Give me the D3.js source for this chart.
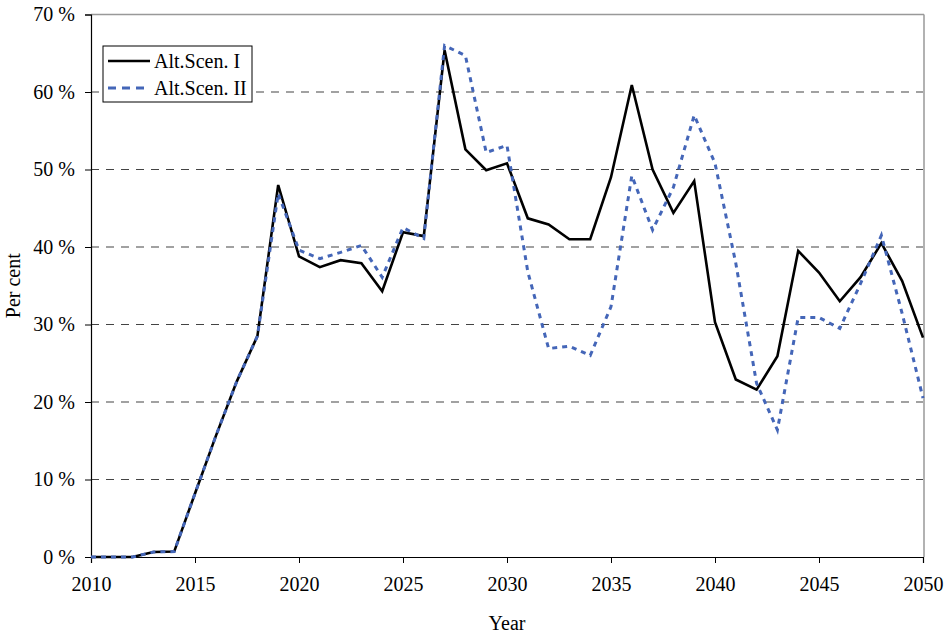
<!DOCTYPE html>
<html>
<head>
<meta charset="utf-8">
<script src="https://cdn.jsdelivr.net/npm/d3@7"></script>
<style>
  html, body { margin: 0; padding: 0; background: #fff; }
  svg { display: block; }
  text { font-family: "Liberation Serif", "Times New Roman", serif; fill: #000; }
</style>
</head>
<body>
<svg id="chart" width="945" height="633"></svg>
<script>
const years = d3.range(2010, 2051);
const scenI = [0, 0, 0, 0.65, 0.7, 8.2, 15.6, 22.6, 28.5, 48.0,
  38.8, 37.4, 38.3, 37.9, 34.3, 41.9, 41.4, 65.4, 52.6, 49.9,
  50.8, 43.7, 42.9, 41.0, 41.0, 49.0, 60.9, 50.0, 44.4, 48.5,
  30.3, 22.9, 21.6, 25.9, 39.5, 36.7, 33.0, 36.1, 40.5, 35.6, 28.3];
const scenII = [0, 0, 0, 0.65, 0.7, 8.2, 15.6, 22.6, 28.5, 46.9,
  39.6, 38.5, 39.3, 40.2, 36.1, 42.5, 41.1, 66.0, 64.7, 52.2,
  53.1, 36.8, 26.9, 27.2, 26.0, 32.3, 49.2, 42.2, 47.7, 57.0,
  50.8, 37.9, 22.4, 16.4, 30.9, 30.9, 29.5, 35.3, 41.5, 31.4, 20.5];
const xTicks = [2010, 2015, 2020, 2025, 2030, 2035, 2040, 2045, 2050];
const yTicks = [0, 10, 20, 30, 40, 50, 60, 70];
const seriesNames = ["Alt.Scen. I", "Alt.Scen. II"];

const svg = d3.select("#chart");
const L = 91, R = 923, T = 14.5, B = 557;
const x = d3.scaleLinear().domain([2010, 2050]).range([L, R]);
const y = d3.scaleLinear().domain([0, 70]).range([B, T]);

// gridlines
svg.append("g").selectAll("line").data(yTicks.filter(v => v > 0 && v < 70)).join("line")
  .attr("x1", L).attr("x2", R).attr("y1", d => y(d)).attr("y2", d => y(d))
  .attr("stroke", "#444").attr("stroke-width", 1.2).attr("stroke-dasharray", "8,7");

// top & right border
svg.append("line").attr("x1", L).attr("x2", R + 1).attr("y1", y(70)).attr("y2", y(70))
  .attr("stroke", "#999").attr("stroke-width", 1.5);
svg.append("line").attr("x1", R + 1).attr("x2", R + 1).attr("y1", y(70)).attr("y2", B)
  .attr("stroke", "#999").attr("stroke-width", 1.5);

// axes
const xAxis = svg.append("g").attr("transform", `translate(0,${B})`)
  .call(d3.axisBottom(x).tickValues(xTicks).tickFormat(d3.format("d")).tickSizeOuter(0).tickSize(6).tickPadding(14));
const yAxis = svg.append("g").attr("transform", `translate(${L},0)`)
  .call(d3.axisLeft(y).tickValues(yTicks).tickFormat(d => d + " %").tickSizeOuter(0).tickSize(6).tickPadding(10));
[xAxis, yAxis].forEach(a => {
  a.selectAll("path.domain").attr("stroke", "#000").attr("stroke-width", 1.2);
  a.selectAll(".tick line").attr("stroke", "#000").attr("stroke-width", 1);
  a.selectAll("text").style("font-family", '"Liberation Serif", serif').style("font-size", "20px").attr("fill", "#000");
});

// lines
const line = d3.line().x((d, i) => x(years[i])).y(d => y(d));
svg.append("path").datum(scenI).attr("d", line)
  .attr("fill", "none").attr("stroke", "#000").attr("stroke-width", 2.6).attr("stroke-linejoin", "miter");
svg.append("path").datum(scenII).attr("d", line)
  .attr("fill", "none").attr("stroke", "#4466b8").attr("stroke-width", 3).attr("stroke-dasharray", "5,5");

// axis titles
svg.append("text").attr("x", 507).attr("y", 630).attr("text-anchor", "middle")
  .style("font-size", "20px").text("Year");
svg.append("text").attr("transform", `translate(20,${(T + B) / 2}) rotate(-90)`).attr("text-anchor", "middle")
  .style("font-size", "20px").text("Per cent");

// legend
const lg = svg.append("g");
lg.append("rect").attr("x", 103).attr("y", 46).attr("width", 149).attr("height", 56)
  .attr("fill", "#fff").attr("stroke", "#000").attr("stroke-width", 1);
const styles = [{ c: "#000", w: 2.6, d: null }, { c: "#4466b8", w: 3, d: "8,6" }];
seriesNames.forEach((n, i) => {
  const yy = 61 + i * 27;
  lg.append("line").attr("x1", 108).attr("x2", 150).attr("y1", yy).attr("y2", yy)
    .attr("stroke", styles[i].c).attr("stroke-width", styles[i].w).attr("stroke-dasharray", styles[i].d);
  lg.append("text").attr("x", 154).attr("y", yy).attr("dy", "0.35em").style("font-size", "20px").text(n);
});
</script>
</body>
</html>
